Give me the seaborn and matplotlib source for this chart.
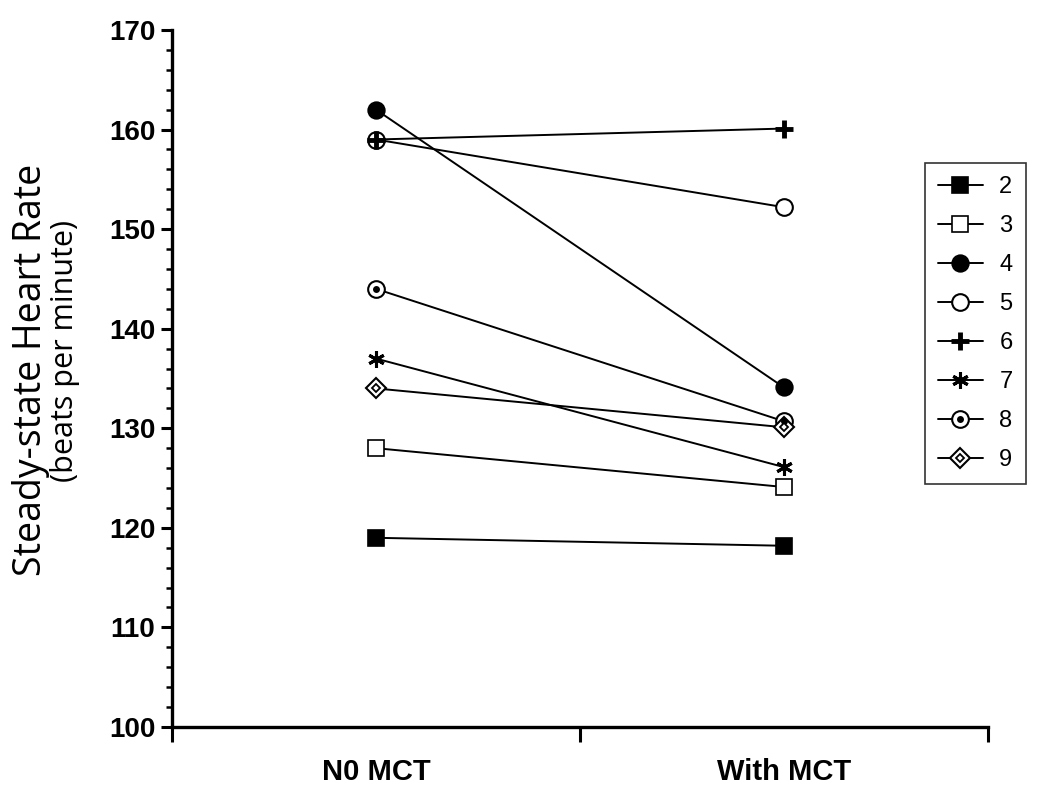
import pandas as pd
import seaborn as sns
import matplotlib.pyplot as plt
from matplotlib.lines import Line2D
from matplotlib.ticker import MultipleLocator, FixedLocator
from matplotlib.legend_handler import HandlerTuple

# data
conditions = ['N0 MCT', 'With MCT']
subjects = ['2', '3', '4', '5', '6', '7', '8', '9']
hr_no_mct = [119, 128, 162, 159, 159, 137, 144, 134]
hr_with_mct = [118.2, 124.1, 134.1, 152.2, 160.1, 126.1, 130.7, 130.1]

cond_pos = [0.5, 1.5]

rows = []
for i, s in enumerate(subjects):
    rows.append({'subject': s, 'pos': cond_pos[0], 'hr': hr_no_mct[i]})
    rows.append({'subject': s, 'pos': cond_pos[1], 'hr': hr_with_mct[i]})
df = pd.DataFrame(rows)

sns.set_style('ticks')
plt.rcParams['font.family'] = ['Liberation Sans', 'DejaVu Sans']
plt.rcParams['text.color'] = 'black'
plt.rcParams['axes.edgecolor'] = 'black'
plt.rcParams['xtick.color'] = 'black'
plt.rcParams['ytick.color'] = 'black'

fig = plt.figure(figsize=(10.5, 7.89), dpi=100)
ax = fig.add_axes([0.1638, 0.0786, 0.7771, 0.8834])

# marker styles per subject
styles = {
    '2': dict(marker='s', ms=11, mfc='black', mec='black', mew=1.2),
    '3': dict(marker='s', ms=11, mfc='white', mec='black', mew=1.2),
    '4': dict(marker='o', ms=12, mfc='black', mec='black', mew=1.2),
    '5': dict(marker='o', ms=12, mfc='white', mec='black', mew=1.5),
    '6': dict(marker='+', ms=13, mfc='black', mec='black', mew=3.5),
    '7': dict(marker=(6, 2, 0), ms=12, mfc='black', mec='black', mew=2.2),
    '8': dict(marker='o', ms=12, mfc='white', mec='black', mew=1.5),
    '9': dict(marker='D', ms=10, mfc='white', mec='black', mew=1.5),
}
inner = {
    '8': dict(marker='o', ms=5, mfc='black', mec='black', mew=0),
    '9': dict(marker='D', ms=4.5, mfc='white', mec='black', mew=1.3),
}

handles = []
for s in subjects:
    sub = df[df['subject'] == s]
    sns.lineplot(data=sub, x='pos', y='hr', ax=ax, color='black', lw=1.4,
                 legend=False, **styles[s])
    h = Line2D([], [], color='black', lw=1.4, **styles[s])
    if s in inner:
        ax.plot(sub['pos'], sub['hr'], ls='none', zorder=5, **inner[s])
        h2 = Line2D([], [], ls='none', **inner[s])
        handles.append((h, h2))
    else:
        handles.append(h)

ax.set_xlim(0, 2)
ax.set_ylim(100, 170)

# x axis: tick marks at 0,1,2, labels centred on each condition
ax.xaxis.set_major_locator(FixedLocator([0, 1, 2]))
ax.xaxis.set_minor_locator(FixedLocator(cond_pos))
ax.set_xticklabels([], minor=False)
ax.set_xticklabels(conditions, minor=True)
ax.tick_params(axis='x', which='major', direction='out', length=11, width=2.2)
ax.tick_params(axis='x', which='minor', length=0, pad=22, labelsize=21)

ax.yaxis.set_major_locator(MultipleLocator(10))
ax.yaxis.set_minor_locator(MultipleLocator(2))
ax.tick_params(axis='y', which='major', direction='out', length=8, width=2.2,
               labelsize=20, pad=4)
ax.tick_params(axis='y', which='minor', direction='out', length=4.5, width=1.8)

for lab in ax.get_xticklabels(minor=True) + ax.get_yticklabels():
    lab.set_fontweight('bold')

for sp in ['top', 'right']:
    ax.spines[sp].set_visible(False)
for sp in ['left', 'bottom']:
    ax.spines[sp].set_linewidth(2.4)

ax.set_xlabel('')
ax.set_ylabel('')

fig.text(0.030, 0.531, 'Steady-state Heart Rate', rotation=90, ha='center',
         va='center', fontsize=27, family=['Open Sans', 'DejaVu Sans'])
fig.text(0.062, 0.555, '(beats per minute)', rotation=90, ha='center',
         va='center', fontsize=22, family=['Open Sans', 'DejaVu Sans'])

leg = ax.legend(handles, subjects, loc='upper left',
                bbox_to_anchor=(925 / 1050, 1 - 163 / 789),
                bbox_transform=fig.transFigure, borderaxespad=0,
                frameon=True, fancybox=False, fontsize=17,
                handlelength=1.9, handletextpad=0.7, labelspacing=0.72,
                borderpad=0.55, handler_map={tuple: HandlerTuple(ndivide=1, pad=0)})
leg.get_frame().set_edgecolor('black')
leg.get_frame().set_linewidth(1.2)

fig.savefig('out.png', dpi=100)
